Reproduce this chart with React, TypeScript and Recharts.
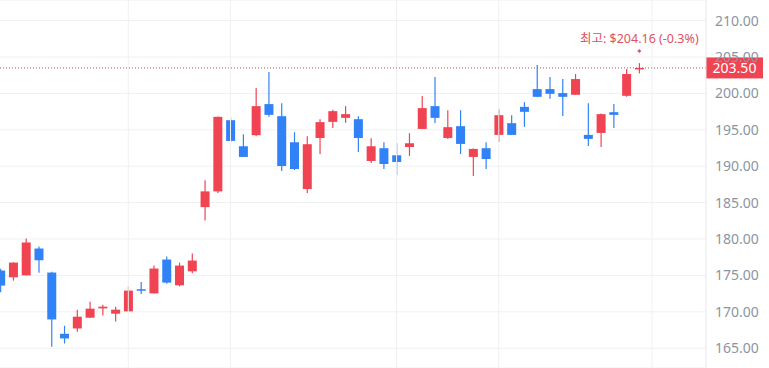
import { ComposedChart, Bar, XAxis, YAxis, CartesianGrid, ReferenceLine, ReferenceDot } from 'recharts'

// daily candles, oldest first (red = up, blue = down)
const opens = [175.66, 174.74, 175.01, 178.69, 175.39, 166.98, 167.71, 169.19, 170.47, 169.74, 170.06, 173.1, 172.53, 177.18, 173.64, 175.56, 184.38, 186.54, 196.32, 192.74, 194.26, 198.53, 196.87, 193.29, 186.86, 193.88, 196.09, 196.64, 196.46, 190.72, 192.47, 191.5, 192.64, 195.12, 198.25, 193.88, 195.5, 191.27, 192.47, 194.3, 195.91, 198.15, 200.59, 200.59, 200.04, 199.81, 194.3, 194.57, 197.42, 199.67, 203.45]
const closes = [173.6, 176.76, 179.52, 177.08, 168.95, 166.34, 169.33, 170.43, 170.7, 170.29, 172.91, 172.98, 175.94, 174.01, 176.35, 177.04, 186.54, 196.78, 193.47, 191.27, 198.25, 197.05, 190.03, 189.61, 193.02, 196.05, 197.56, 197.15, 193.88, 192.74, 190.3, 190.58, 193.15, 197.98, 196.64, 195.36, 193.06, 192.37, 190.99, 197.01, 194.3, 197.47, 199.53, 199.94, 199.53, 201.97, 193.75, 197.15, 197.05, 202.66, 203.5]
const highs = [175.9, 176.8, 180.07, 178.97, 175.5, 168.08, 170.29, 171.39, 170.98, 170.7, 173.46, 174.11, 176.35, 177.59, 176.76, 178.0, 188.06, 196.83, 196.74, 194.39, 200.73, 202.93, 198.66, 194.67, 194.12, 196.46, 197.74, 198.25, 196.87, 193.84, 193.29, 193.15, 194.53, 199.63, 202.25, 197.7, 197.7, 192.42, 193.29, 197.84, 197.01, 198.8, 203.9, 202.25, 201.97, 202.66, 198.66, 197.25, 198.53, 203.35, 204.16]
const lows = [172.67, 174.28, 175.0, 175.35, 165.19, 165.65, 167.26, 169.19, 169.5, 168.68, 170.06, 172.45, 172.53, 173.87, 173.5, 175.29, 182.55, 186.31, 193.29, 191.27, 194.12, 196.78, 189.34, 189.48, 186.31, 191.68, 195.26, 195.95, 191.96, 190.44, 189.61, 188.79, 191.41, 195.12, 195.95, 193.75, 191.68, 188.65, 189.61, 193.33, 194.3, 195.4, 199.53, 199.26, 196.91, 199.81, 192.78, 192.64, 195.26, 199.53, 202.75]

const gridDays = [10, 18, 31, 39, 51]
const yTicks = [165, 170, 175, 180, 185, 190, 195, 200, 205, 210]
const lastPrice = 203.5
const highLabel = '최고: $204.16 (-0.3%)'

const UP = '#f04452'
const DOWN = '#3182f6'
const FONT = "'Noto Sans', 'Noto Sans CJK KR', sans-serif"

const data = opens.map((o, i) => ({
  i,
  open: o,
  close: closes[i],
  high: highs[i],
  low: lows[i],
  range: [lows[i], highs[i]],
}))

const maxIdx = highs.indexOf(Math.max(...highs))

function Candle(props: any) {
  const { x, y, width, height, payload } = props
  if (!payload) return null
  const { open, close, high, low } = payload
  const span = high - low || 1
  const py = (v: number) => y + ((high - v) / span) * height
  const cx = x + width / 2
  const color = close >= open ? UP : DOWN
  const top = py(Math.max(open, close))
  const bot = py(Math.min(open, close))
  const bh = Math.max(bot - top, 1.5)
  return (
    <g>
      <line x1={cx} x2={cx} y1={y} y2={y + height} stroke={color} strokeWidth={1.2} />
      <rect x={cx - 4.5} y={top} width={9} height={bh} fill={color} />
    </g>
  )
}

function HighMarker(props: any) {
  const { cx, cy } = props
  return (
    <g>
      <path d={`M${cx} ${cy - 14} l2 2 l-2 2 l-2 -2 z`} fill="#e0525f" />
      <text x={cx} y={cy - 20} textAnchor="middle" fontSize={12.5} fill="#e0525f" fontFamily={FONT}>
        {highLabel}
      </text>
    </g>
  )
}

function PriceTag(props: any) {
  const { viewBox } = props
  const { x, y, width } = viewBox
  const left = x + width
  return (
    <g>
      <rect x={left} y={y - 10.5} width={57} height={21} fill={UP} />
      <text x={left + 28.5} y={y + 5} textAnchor="middle" fontSize={14} fill="#fff" fontFamily={FONT}>
        {lastPrice.toFixed(2)}
      </text>
    </g>
  )
}

export default function App() {
  return (
    <div style={{ position: 'absolute', left: 0, top: 0, background: '#fff' }}>
      <ComposedChart width={769} height={368} data={data} margin={{ top: 0, right: 0, bottom: 0, left: 0 }}>
        <CartesianGrid vertical={false} stroke="#eef0f2" />
        <XAxis type="number" dataKey="i" domain={[-0.043, 55.22]} allowDataOverflow hide />
        <YAxis
          orientation="right"
          width={63}
          domain={[162.28, 212.83]}
          allowDataOverflow
          ticks={yTicks}
          tickFormatter={(v: number) => v.toFixed(2)}
          tick={{ fill: '#8b95a1', fontSize: 14, fontFamily: FONT }}
          tickLine={false}
          tickSize={0}
          tickMargin={9}
          axisLine={{ stroke: '#e5e8eb' }}
        />
        {gridDays.map((d) => (
          <ReferenceLine key={d} x={d} stroke="#eef0f2" ifOverflow="visible" />
        ))}
        <Bar dataKey="range" barSize={9} shape={<Candle />} isAnimationActive={false} />
        <ReferenceLine
          y={lastPrice}
          stroke="#b8505b"
          strokeDasharray="1 2"
          label={<PriceTag />}
        />
        <ReferenceDot x={maxIdx} y={highs[maxIdx]} shape={<HighMarker />} ifOverflow="visible" />
      </ComposedChart>
    </div>
  )
}
